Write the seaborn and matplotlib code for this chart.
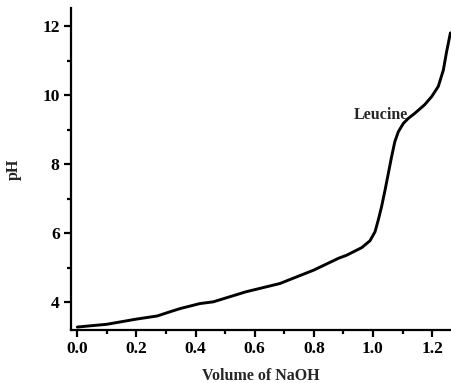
import matplotlib
matplotlib.use('Agg')
import matplotlib.pyplot as plt
import seaborn as sns
import pandas as pd
from matplotlib.ticker import MultipleLocator

# volume de NaOH e pH
volume = [0.0, 0.10, 0.20, 0.27, 0.32, 0.35, 0.415, 0.46, 0.57, 0.685, 0.80, 0.883,
          0.911, 0.962, 0.990, 1.007, 1.018, 1.029, 1.041, 1.052, 1.063, 1.074,
          1.086, 1.103, 1.119, 1.140, 1.175, 1.199, 1.221, 1.238, 1.249, 1.262]
ph = [3.28, 3.36, 3.51, 3.60, 3.74, 3.82, 3.96, 4.01, 4.30, 4.54, 4.93, 5.27,
      5.36, 5.58, 5.78, 6.04, 6.38, 6.76, 7.25, 7.73, 8.21, 8.65,
      8.94, 9.18, 9.32, 9.46, 9.72, 9.96, 10.25, 10.72, 11.25, 11.80]

df = pd.DataFrame({'volume': volume, 'ph': ph})

sns.set_style('ticks')
plt.rcParams['font.family'] = ['Liberation Serif', 'DejaVu Serif']
plt.rcParams['font.weight'] = 'bold'

fig = plt.figure(figsize=(4.51, 3.83), dpi=100)
ax = fig.add_axes([0.157, 0.138, 0.843, 0.841])

sns.lineplot(data=df, x='volume', y='ph', color='black', linewidth=2.1, estimator=None, ax=ax)
ax.get_lines()[0].set_solid_joinstyle('round')

ax.set_xlim(-0.022, 1.264)
ax.set_ylim(3.19, 12.52)
ax.xaxis.set_minor_locator(MultipleLocator(0.1))
ax.yaxis.set_minor_locator(MultipleLocator(1))
ax.set_xticks([0.0, 0.2, 0.4, 0.6, 0.8, 1.0, 1.2])
ax.set_xticklabels(['0.0', '0.2', '0.4', '0.6', '0.8', '1.0', '1.2'])
ax.set_yticks([4, 6, 8, 10, 12])
ax.set_yticklabels(['4', '6', '8', '10', '12'])

ax.tick_params(axis='both', which='major', direction='out', length=5, width=1.6,
               labelsize=12.5, pad=3, color='black', labelcolor='black')
ax.tick_params(axis='both', which='minor', direction='out', length=3, width=1.6, color='black')
for lbl in ax.get_xticklabels() + ax.get_yticklabels():
    lbl.set_fontweight('bold')

for s in ['top', 'right']:
    ax.spines[s].set_visible(False)
for s in ['left', 'bottom']:
    ax.spines[s].set_linewidth(1.6)
    ax.spines[s].set_color('black')

ax.set_xlabel('Volume of NaOH', fontsize=11.5, fontweight='bold', labelpad=8)
ax.set_ylabel('pH', fontsize=11.5, fontweight='bold', labelpad=15)

ax.text(1.118, 9.42, 'Leucine', fontsize=11.5, fontweight='bold', ha='right', va='center')

plt.savefig('out.png', dpi=100)
